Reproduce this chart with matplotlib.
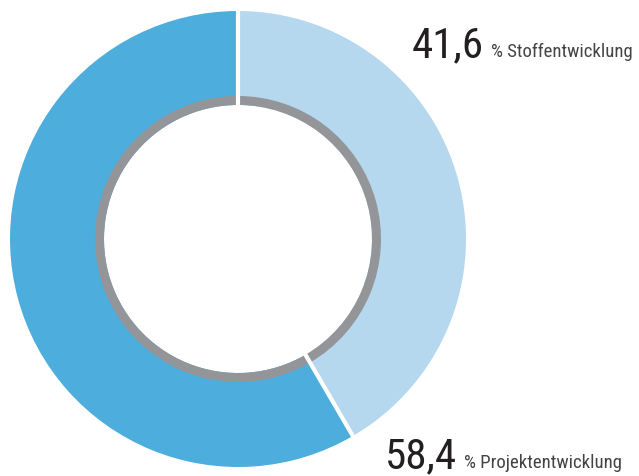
import matplotlib
matplotlib.use('agg')
import matplotlib.pyplot as plt
import numpy as np

labels = ['Stoffentwicklung', 'Projektentwicklung']
values = [41.6, 58.4]
value_texts = ['41,6', '58,4']
colors = ['#b5d8ee', '#4daedd']

W, H = 639, 477
fig = plt.figure(figsize=(W / 100, H / 100), dpi=100)
ax = fig.add_axes([0, 0, 1, 1])

cx, cy = 238, H - 240
r_out, r_gray, r_in = 228, 143, 134

# outer coloured ring
ax.pie(values, colors=colors, startangle=90, counterclock=False,
       center=(cx, cy), radius=r_out, frame=True,
       wedgeprops=dict(width=r_out - r_in, linewidth=0))
# thin grey inner band
ax.pie(values, colors=['#939598', '#939598'], startangle=90, counterclock=False,
       center=(cx, cy), radius=r_gray, frame=True,
       wedgeprops=dict(width=r_gray - r_in, linewidth=0))
# white separators at the wedge borders
bounds = 90 - 360 * np.cumsum([0] + values[:-1]) / sum(values)
for a in np.radians(bounds):
    ax.plot([cx + (r_in - 2) * np.cos(a), cx + (r_out + 2) * np.cos(a)],
            [cy + (r_in - 2) * np.sin(a), cy + (r_out + 2) * np.sin(a)],
            color='white', lw=3, solid_capstyle='butt')

ax.set_xlim(0, W)
ax.set_ylim(0, H)
ax.set_aspect('equal')
ax.axis('off')

fam = ['Roboto Condensed', 'Liberation Sans Narrow', 'Roboto', 'DejaVu Sans']
pos = [(412, H - 57), (385, H - 468)]
fig.canvas.draw()
for xy, vt, lab in zip(pos, value_texts, labels):
    t = ax.text(xy[0], xy[1], vt, fontsize=31, color='#231f20', family=fam,
                ha='left', va='baseline')
    bb = t.get_window_extent(renderer=fig.canvas.get_renderer())
    ax.text(bb.x1 + 7, xy[1], '% ' + lab, fontsize=13.5, color='#444444',
            family=fam, ha='left', va='baseline')

fig.savefig('out.png', dpi=100)
